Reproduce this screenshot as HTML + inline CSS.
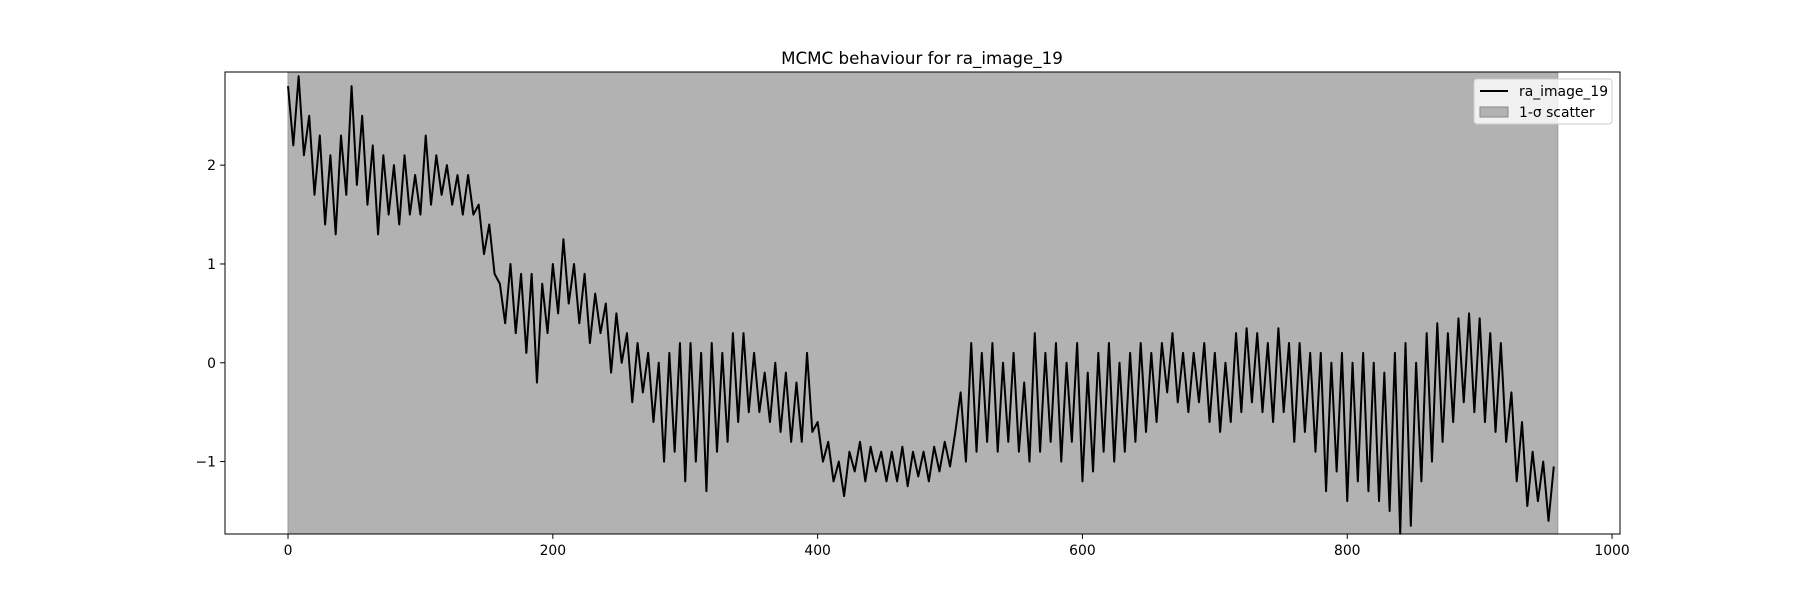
<!DOCTYPE html>
<html><head><meta charset="utf-8"><style>
body{margin:0;background:#fff}
svg text{font-family:"DejaVu Sans","Liberation Sans",sans-serif;fill:#000}
</style></head><body>
<svg id="chart" width="1800" height="600">
<text x="922" y="64" font-size="16.7" text-anchor="middle">MCMC behaviour for ra_image_19</text>
<g id="plot"></g>
</svg>
<script>
const xTicks=[0,200,400,600,800,1000];
const yTicks=[-1,0,1,2];
const bandRange=[0,959];
const step=4;
const values=[
2.8,2.2,2.9,2.1,2.5, 1.7,2.3,1.4,2.1,1.3, 2.3,1.7,2.8,1.8,2.5, 1.6,2.2,1.3,2.1,1.5,
2.0,1.4,2.1,1.5,1.9, 1.5,2.3,1.6,2.1,1.7, 2.0,1.6,1.9,1.5,1.9, 1.5,1.6,1.1,1.4,0.9,
0.8,0.4,1.0,0.3,0.9, 0.1,0.9,-0.2,0.8,0.3, 1.0,0.5,1.25,0.6,1.0, 0.4,0.9,0.2,0.7,0.3,
0.6,-0.1,0.5,0.0,0.3, -0.4,0.2,-0.3,0.1,-0.6, 0.0,-1.0,0.1,-0.9,0.2, -1.2,0.2,-1.0,0.1,-1.3,
0.2,-0.9,0.1,-0.8,0.3, -0.6,0.3,-0.5,0.1,-0.5, -0.1,-0.6,0.0,-0.7,-0.1, -0.8,-0.2,-0.8,0.1,-0.7,
-0.6,-1.0,-0.8,-1.2,-1.0, -1.35,-0.9,-1.1,-0.8,-1.2, -0.85,-1.1,-0.9,-1.2,-0.9, -1.2,-0.85,-1.25,-0.9,-1.15,
-0.9,-1.2,-0.85,-1.1,-0.8, -1.05,-0.7,-0.3,-1.0,0.2, -0.9,0.1,-0.8,0.2,-0.9, 0.0,-0.8,0.1,-0.9,-0.2,
-1.0,0.3,-0.9,0.1,-0.8, 0.2,-1.0,0.0,-0.8,0.2, -1.2,-0.1,-1.1,0.1,-0.9, 0.2,-1.0,0.0,-0.9,0.1,
-0.8,0.2,-0.7,0.1,-0.6, 0.2,-0.3,0.3,-0.4,0.1, -0.5,0.1,-0.4,0.2,-0.6, 0.1,-0.7,0.0,-0.6,0.3,
-0.5,0.35,-0.4,0.3,-0.5, 0.2,-0.6,0.35,-0.5,0.2, -0.8,0.2,-0.7,0.1,-0.9, 0.1,-1.3,0.0,-1.1,0.1,
-1.4,0.0,-1.2,0.1,-1.3, 0.0,-1.4,-0.1,-1.5,0.1, -1.73,0.2,-1.65,0.0,-1.2, 0.3,-1.0,0.4,-0.8,0.3,
-0.6,0.45,-0.4,0.5,-0.5, 0.45,-0.6,0.3,-0.7,0.2, -0.8,-0.3,-1.2,-0.6,-1.45, -0.9,-1.4,-1.0,-1.6,-1.05
];
const L=225,R=1620,T=72,B=534;
const xMin=-47.6,xMax=1006,yMin=-1.733,yMax=2.943;
const sx=v=>L+(v-xMin)/(xMax-xMin)*(R-L);
const sy=v=>B-(v-yMin)/(yMax-yMin)*(B-T);
const NS="http://www.w3.org/2000/svg";
const g=document.getElementById('plot');
function mk(t,a){const e=document.createElementNS(NS,t);for(const k in a)e.setAttribute(k,a[k]);g.appendChild(e);return e;}
const band=mk('rect',{x:sx(bandRange[0]),y:T,width:sx(bandRange[1])-sx(bandRange[0]),height:B-T,fill:'#b2b2b2',stroke:'#999','stroke-width':1});


const pts=values.map((v,i)=>sx(Math.min(i*step,bandRange[1]))+','+sy(v)).join(' ');
const line=mk('polyline',{points:pts,fill:'none',stroke:'#000','stroke-width':2,'stroke-linejoin':'round'});


const frame=mk('rect',{x:L,y:T,width:R-L,height:B-T,fill:'none',stroke:'#000','stroke-width':1});


xTicks.forEach(t=>{
  const x=sx(t);
  const tk=mk('line',{x1:x,x2:x,y1:B,y2:B+4.9,stroke:'#000'});
  
  
  const tx=mk('text',{x:x,y:B+21,'font-size':13.9,'text-anchor':'middle'});
  tx.textContent=t;
  
  
});
yTicks.forEach(t=>{
  const y=sy(t);
  const tk=mk('line',{x1:L-4.9,x2:L,y1:y,y2:y,stroke:'#000'});
  
  
  const tx=mk('text',{x:L-9,y:y+5,'font-size':13.9,'text-anchor':'end'});
  tx.textContent=t<0?'\u2212'+(-t):t;
  
  
});
const lg=mk('rect',{x:1474,y:79,width:138,height:45,rx:3,fill:'#fff','fill-opacity':0.8,stroke:'#ccc'});


const l1=mk('line',{x1:1480,x2:1508,y1:91,y2:91,stroke:'#000','stroke-width':2});


const t1=mk('text',{x:1519,y:96,'font-size':13.9});t1.textContent='ra_image_19';


const p2=mk('rect',{x:1480,y:107,width:28,height:10,fill:'#b2b2b2',stroke:'#888'});


const t2=mk('text',{x:1519,y:117,'font-size':13.9});t2.textContent='1-\u03c3 scatter';


</script>
</body></html>
